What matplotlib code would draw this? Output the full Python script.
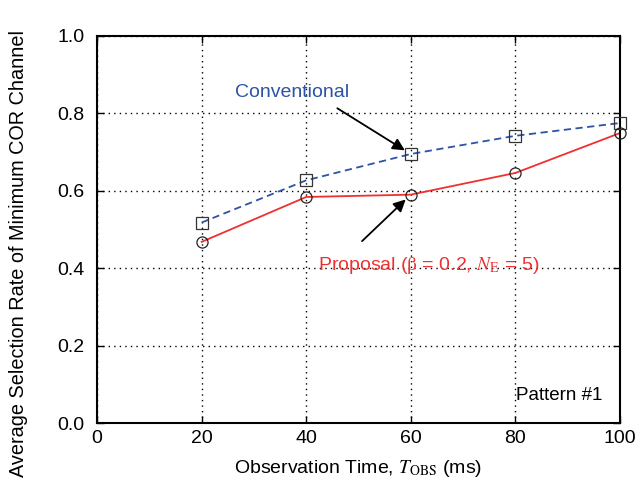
import matplotlib
matplotlib.use("Agg")
import matplotlib.pyplot as plt

plt.rcParams['font.family'] = ['Liberation Sans', 'DejaVu Sans']
plt.rcParams['mathtext.fontset'] = 'stix'

obs_time = [20, 40, 60, 80, 100]
conventional = [0.518, 0.627, 0.695, 0.742, 0.775]
proposal = [0.468, 0.584, 0.590, 0.646, 0.749]
xticks = [0, 20, 40, 60, 80, 100]
yticks = [0.0, 0.2, 0.4, 0.6, 0.8, 1.0]

blue = '#2b53a6'
red = '#f03030'

fig = plt.figure(figsize=(6.39, 4.86), dpi=100)
ax = fig.add_axes([0.152, 0.1296, 0.818, 0.7964])

ax.plot(obs_time, conventional, color=blue, ls=(0, (4, 2.5)), lw=1.3, zorder=2)
ax.plot(obs_time, conventional, ls='none', marker='s', ms=8, mfc='none', mec='#333333', mew=0.9, zorder=5, clip_on=False)
ax.plot(obs_time, proposal, color=red, ls='-', lw=1.3, zorder=2)
ax.plot(obs_time, proposal, ls='none', marker='o', ms=8, mfc='none', mec='#222222', mew=0.9, zorder=5, clip_on=False)

ax.set_xlim(0, 100)
ax.set_ylim(0, 1.0)
ax.set_xticks(xticks)
ax.set_yticks(yticks)
ax.set_xticklabels([str(v) for v in xticks])
ax.set_yticklabels([f"{v:.1f}" for v in yticks])
ax.tick_params(direction='in', length=5, width=1, labelsize=14, top=True, right=True)
ax.tick_params(axis='x', pad=5)
ax.tick_params(axis='y', pad=9)
ax.grid(True, color='black', ls=(0, (1, 3)), lw=1)
for s in ax.spines.values():
    s.set_linewidth(1.5)

ax.set_xlabel(r"Observation Time, $T_{\rm OBS}$ (ms)", fontsize=14, va='center')
ax.xaxis.set_label_coords(0.5, -(468 - 423) / 387)
ax.set_ylabel("Average Selection Rate of Minimum COR Channel", fontsize=14.3, va='center')
ax.yaxis.set_label_coords((18 - 97) / 523, (486 - 254 - 63) / 387)

ax.text(26.4, 0.853, "Conventional", color=blue, fontsize=14, ha='left', va='center')
ax.annotate("", xy=(60, conventional[2]), xytext=(45.5, 0.817),
            arrowprops=dict(arrowstyle='-|>', color='black', lw=1.3, mutation_scale=18, shrinkB=5))
ax.text(42.3, 0.408, r"Proposal ($\mathrm{\beta}$ = 0.2, $N_{\rm E}$ = 5)", color=red, fontsize=14, ha='left', va='center')
ax.annotate("", xy=(60, proposal[2]), xytext=(50.3, 0.465),
            arrowprops=dict(arrowstyle='-|>', color='black', lw=1.3, mutation_scale=18, shrinkB=5))
ax.text(80.2, 0.072, "Pattern #1", color='black', fontsize=13.5, ha='left', va='center')

fig.savefig("out.png", dpi=100)
